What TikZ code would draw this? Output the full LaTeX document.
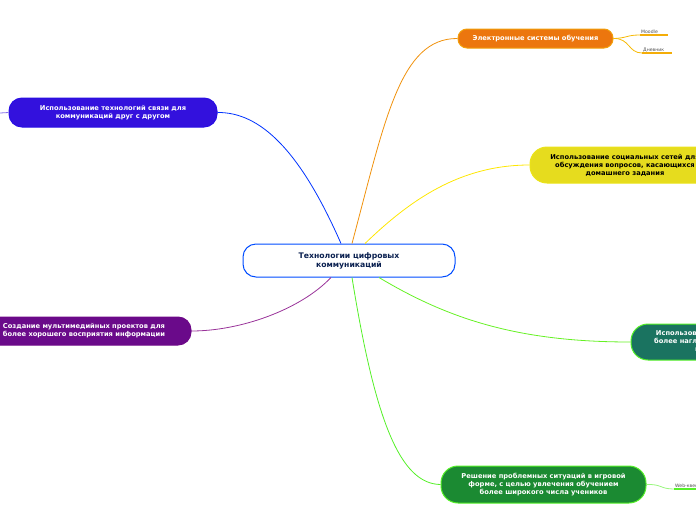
\documentclass[tikz,border=0pt]{standalone}
\usepackage{fontspec}
\setmainfont{DejaVu Sans}
\begin{document}
\begin{tikzpicture}[x=1pt,y=-1pt,
  topic/.style={rounded corners=13pt,draw,line width=1pt,align=center,font=\bfseries\fontsize{6.7}{8}\selectfont,inner sep=2pt},
  leaf/.style={font=\fontsize{4.6}{5}\selectfont,text=black!70},
  link/.style={line width=0.8pt}]
\useasboundingbox (0,0) rectangle (696,520);
\clip (0,0) rectangle (696,520);
\definecolor{navy}{HTML}{0A2050}
\definecolor{orng}{HTML}{EC760E}
\definecolor{yell}{HTML}{E6DC1E}
\definecolor{teal}{HTML}{1A7360}
\definecolor{grn}{HTML}{1B8A32}
\definecolor{lime}{HTML}{55F028}
\definecolor{blu}{HTML}{3311DD}
\definecolor{purp}{HTML}{6A0A8A}
% centre
\node[topic,draw=blue!70!cyan,fill=white,text=navy,minimum width=212pt,minimum height=33pt,font=\bfseries\fontsize{7.7}{9}\selectfont] (main) at (349,260.5) {Технологии цифровых\\коммуникаций};
% branches
\node[topic,fill=orng,draw=orng!70!yellow,text=white,minimum width=155pt,minimum height=19pt,rounded corners=9pt] (esys) at (535.5,38.5) {Электронные системы обучения};
\node[topic,fill=yell,draw=yell!80!yellow,text=black,minimum width=190pt,minimum height=36pt,rounded corners=17pt] (soc) at (625,165) {Использование социальных сетей для\\обсуждения вопросов, касающихся\\домашнего задания};
\node[topic,fill=teal,draw=lime,text=white,minimum width=178pt,minimum height=36pt,rounded corners=17pt] (pres) at (720,342) {Использование презентаций для\\более наглядного представления\\информации};
\node[topic,fill=grn,draw=lime,text=white,minimum width=205pt,minimum height=37pt,rounded corners=17pt] (game) at (543.5,484.5) {Решение проблемных ситуаций в игровой\\форме, с целью увлечения обучением\\более широкого числа учеников};
\node[topic,fill=blu,draw=blu!80!blue,text=white,minimum width=208pt,minimum height=29pt,rounded corners=13pt] (comm) at (113,112.5) {Использование технологий связи для\\коммуникаций друг с другом};
\node[topic,fill=purp,draw=purp!80!violet,text=white,minimum width=214pt,minimum height=28pt,rounded corners=13pt] (media) at (84,331) {Создание мультимедийных проектов для\\более хорошего восприятия информации};
% leaves
\node[leaf,anchor=south west,inner sep=1pt] (moodle) at (640,35) {Moodle};
\node[leaf,anchor=south west,inner sep=1pt] (dnev) at (642,53) {Дневник};
\node[leaf,anchor=south west,inner sep=1pt] (web) at (674,489) {Web-квест};
\draw[orng!60!yellow,line width=1.2pt] (moodle.south west) -- (668,35);
\draw[orng!60!yellow,line width=1.2pt] (dnev.south west) -- (672,53);
\draw[lime,line width=1.2pt] (web.south west) -- (700,489);
\draw[orng!50!yellow,link] (esys.east) .. controls (628,38) and (626,35) .. (moodle.south west);
\draw[orng!50!yellow,link] (esys.east) .. controls (630,38) and (628,53) .. (dnev.south west);
\draw[lime!60,link] (game.east) .. controls (662,484) and (660,489) .. (web.south west);
\draw[blu!60,link] (comm.west) -- (0,113);
% connectors
\draw[orng!80!yellow,link] ([xshift=3pt]main.north) .. controls (385,120) and (400,38) .. (esys.west);
\draw[yellow!90!orange,link] ([xshift=16pt]main.north) .. controls (410,200) and (460,165) .. (soc.west);
\draw[lime!90!yellow,link] ([xshift=30pt]main.south) .. controls (450,320) and (520,342) .. (pres.west);
\draw[lime,link] ([xshift=3pt]main.south) .. controls (375,420) and (400,484) .. (game.west);
\draw[blue!80!cyan,link] ([xshift=-8pt]main.north) .. controls (300,150) and (260,112) .. (comm.east);
\draw[violet!80,link] ([xshift=-18pt]main.south) .. controls (300,310) and (240,331) .. (media.east);
\end{tikzpicture}
\end{document}
